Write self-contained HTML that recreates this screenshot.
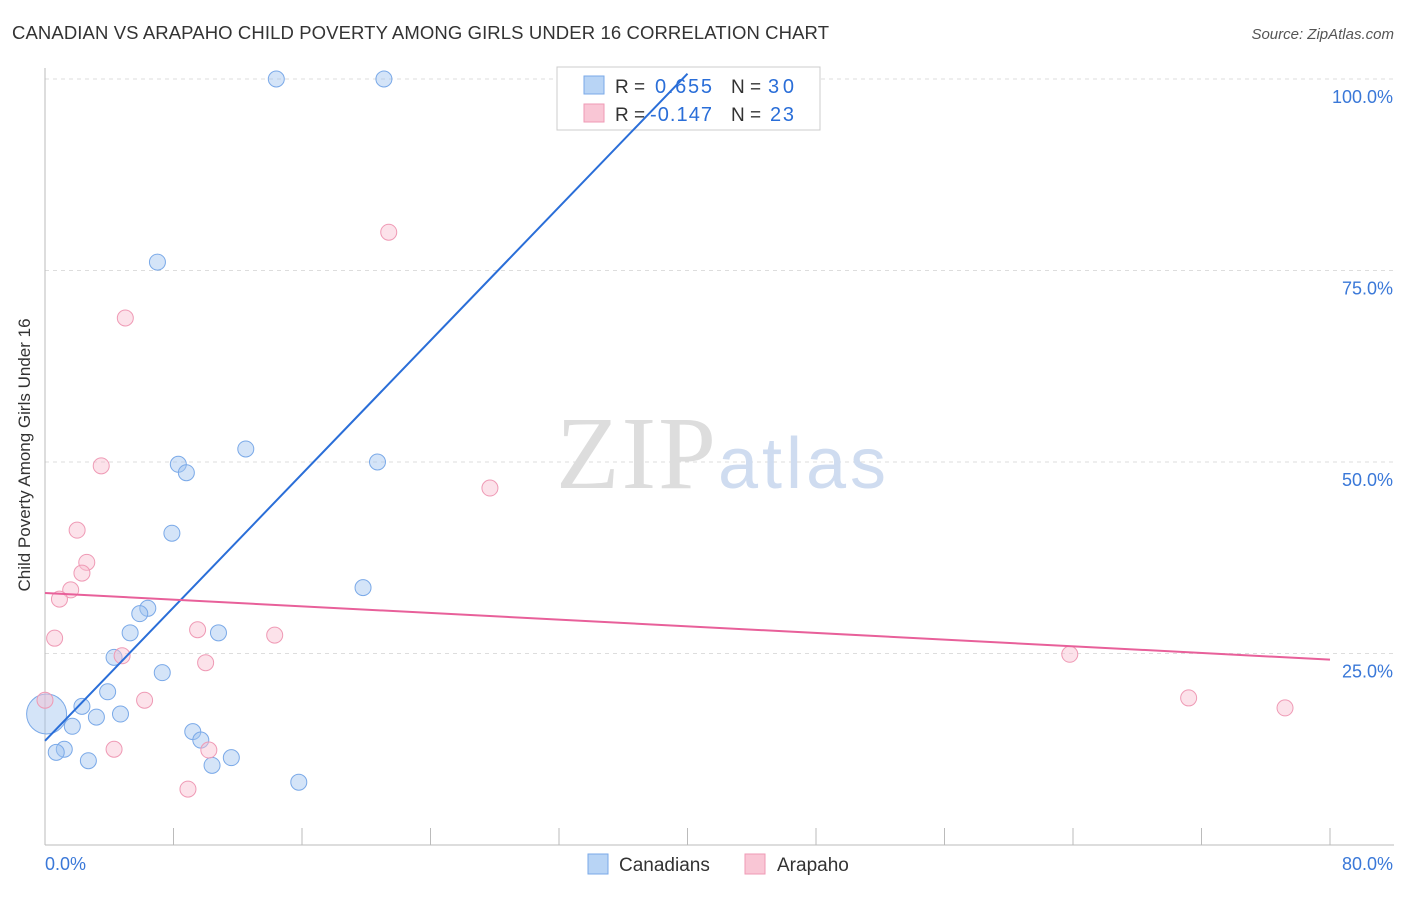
<!DOCTYPE html>
<html><head><meta charset="utf-8"><style>
body{margin:0;background:#fff;font-family:"Liberation Sans",sans-serif}
</style></head><body>
<svg width="1406" height="892" xmlns="http://www.w3.org/2000/svg">
<text x="12" y="39" font-size="18.5" fill="#333" textLength="817">CANADIAN VS ARAPAHO CHILD POVERTY AMONG GIRLS UNDER 16 CORRELATION CHART</text>
<text x="1394" y="39" font-size="15" fill="#555" font-style="italic" text-anchor="end">Source: ZipAtlas.com</text>
<g id="grid"></g>
<text x="716" y="488" font-size="104" fill="#ddd" font-family="Liberation Serif" text-anchor="end" textLength="160">ZIP</text>
<text x="718" y="488" font-size="72" fill="#cfdcf0" textLength="168">atlas</text>
<text x="30" y="455" font-size="17" fill="#333" text-anchor="middle" transform="rotate(-90 30 455)">Child Poverty Among Girls Under 16</text>
<g>
<rect x="557" y="67" width="263" height="63" fill="#fff" stroke="#ccc"/>
<rect x="584" y="76" width="20" height="18" fill="#b8d4f5" stroke="#7aa9e8"/>
<rect x="584" y="104" width="20" height="18" fill="#f9c6d5" stroke="#ef9ab5"/>
<text x="615" y="93" font-size="19" fill="#333">R =</text>
<text x="655" y="93" font-size="20" fill="#2a6ed8" textLength="57">0.655</text>
<text x="731" y="93" font-size="19" fill="#333">N =</text>
<text x="768" y="93" font-size="20" fill="#2a6ed8" textLength="26">30</text>
<text x="615" y="121" font-size="19" fill="#333">R =</text>
<text x="650" y="121" font-size="20" fill="#2a6ed8" textLength="62">-0.147</text>
<text x="731" y="121" font-size="19" fill="#333">N =</text>
<text x="770" y="121" font-size="20" fill="#2a6ed8" textLength="24">23</text>
</g>
<g id="marks"></g>
<g>
<rect x="588" y="854" width="20" height="20" fill="#b8d4f5" stroke="#7aa9e8"/>
<text x="619" y="871" font-size="19" fill="#333">Canadians</text>
<rect x="745" y="854" width="20" height="20" fill="#f9c6d5" stroke="#ef9ab5"/>
<text x="777" y="871" font-size="19" fill="#333">Arapaho</text>
</g>
</svg>
<script>
const xTicks=[0,8,16,24,32,40,48,56,64,72,80];
const yTicks=[25,50,75,100];
const yTickLabels=["25.0%","50.0%","75.0%","100.0%"];
const canX=[14.4,21.1,7.0,8.3,8.8,12.5,20.7,7.9,19.8,6.4,5.9,5.3,10.8,4.3,7.3,3.9,2.3,0.1,3.2,4.7,1.7,9.2,9.7,1.2,0.7,2.7,10.4,11.6,15.8];
const canY=[100,100,76.1,49.7,48.6,51.7,50.0,40.7,33.6,30.9,30.2,27.7,27.7,24.5,22.5,20.0,18.1,17.1,16.7,17.1,15.5,14.8,13.7,12.5,12.1,11.0,10.4,11.4,8.2];
const araX=[21.4,5.0,3.5,27.7,2.0,2.6,2.3,1.6,0.9,0.6,9.5,14.3,4.8,10.0,0,6.2,4.3,10.2,8.9,63.8,71.2,77.2];
const araY=[80.0,68.8,49.5,46.6,41.1,36.9,35.5,33.3,32.1,27.0,28.1,27.4,24.7,23.8,18.9,18.9,12.5,12.4,7.3,24.9,19.2,17.9];
const canTrend=[[0,13.6],[40,100.7]];
const araTrend=[[0,32.9],[80,24.2]];
const X=v=>45+v/80*1285, Y=v=>845-v/100*766;
const NS="http://www.w3.org/2000/svg";
function mk(t,a,p){const e=document.createElementNS(NS,t);for(const k in a)e.setAttribute(k,a[k]);p.appendChild(e);return e;}
const g=document.getElementById('grid'), m=document.getElementById('marks');
yTicks.forEach((t,i)=>{
 const l=mk('line',{x1:45,x2:1394,y1:Y(t),y2:Y(t),stroke:'#ddd','stroke-dasharray':'4,4'},g);
 
 
 const tx=mk('text',{x:1393,y:Y(t)+24,'font-size':18,fill:'#3a78d8','text-anchor':'end'},g);
 tx.textContent=yTickLabels[i];
 
 
});
const ax=mk('line',{x1:45,x2:1394,y1:845,y2:845,stroke:'#bbb'},g);


const ay=mk('line',{x1:45,x2:45,y1:68,y2:845,stroke:'#bbb'},g);


xTicks.forEach(t=>{const l=mk('line',{x1:X(t),x2:X(t),y1:828,y2:845,stroke:'#bbb'},g);
 
 });
const xl0=mk('text',{x:45,y:870,'font-size':18,fill:'#3a78d8'},g);xl0.textContent='0.0%';


const xl1=mk('text',{x:1393,y:870,'font-size':18,fill:'#3a78d8','text-anchor':'end'},g);xl1.textContent='80.0%';


canX.forEach((v,i)=>{const c=mk('circle',{cx:X(v),cy:Y(canY[i]),r:i===17?20:8,fill:'rgba(160,196,240,0.45)',stroke:'#7aa9e8','stroke-width':1},m);
 
 });
araX.forEach((v,i)=>{const c=mk('circle',{cx:X(v),cy:Y(araY[i]),r:8,fill:'rgba(248,190,208,0.45)',stroke:'#ef9ab5','stroke-width':1},m);
 
 });
const t1=mk('line',{x1:X(canTrend[0][0]),y1:Y(canTrend[0][1]),x2:X(canTrend[1][0]),y2:Y(canTrend[1][1]),stroke:'#2a6ed8','stroke-width':2},m);


const t2=mk('line',{x1:X(araTrend[0][0]),y1:Y(araTrend[0][1]),x2:X(araTrend[1][0]),y2:Y(araTrend[1][1]),stroke:'#e8609a','stroke-width':2},m);


</script>
</body></html>
